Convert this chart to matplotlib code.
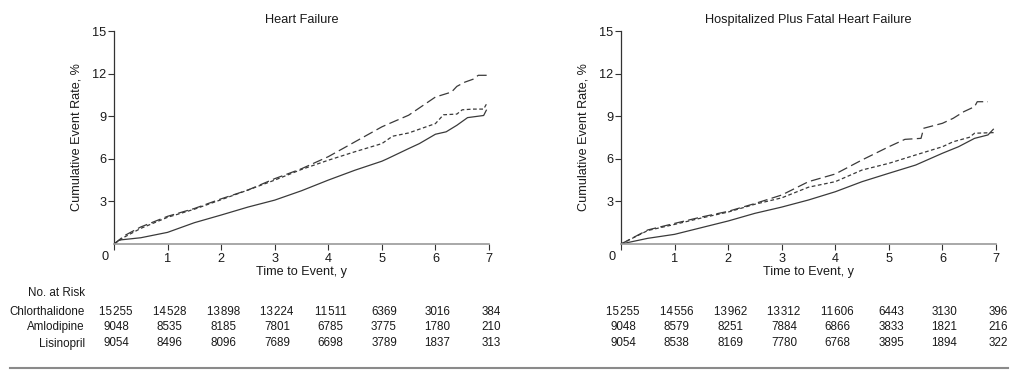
import matplotlib
matplotlib.use("Agg")
import matplotlib.pyplot as plt
from matplotlib.transforms import blended_transform_factory
from matplotlib.lines import Line2D

plt.rcParams['font.family'] = ['Liberation Sans', 'DejaVu Sans']

# ---- data ----
years = [0, 1, 2, 3, 4, 5, 6, 7]

# Heart failure
hf_chlor_t = [0, 0.1, 0.5, 1, 1.5, 2, 2.5, 3, 3.5, 4, 4.5, 5, 5.1, 5.5, 5.7, 6, 6.2, 6.4, 6.6, 6.9, 6.95]
hf_chlor_v = [0, 0.28, 0.44, 0.82, 1.5, 2.04, 2.6, 3.09, 3.75, 4.5, 5.2, 5.83, 6.0, 6.72, 7.07, 7.73, 7.9, 8.36, 8.9, 9.05, 9.42]
hf_amlo_t = [0, 0.2, 0.5, 1, 1.5, 2, 2.5, 3, 3.5, 4, 4.5, 5, 5.15, 5.5, 6, 6.3, 6.4, 6.55, 6.7, 6.8, 7.0]
hf_amlo_v = [0, 0.6, 1.2, 1.95, 2.5, 3.18, 3.8, 4.6, 5.3, 6.15, 7.2, 8.25, 8.5, 9.07, 10.35, 10.7, 11.1, 11.4, 11.6, 11.88, 11.88]
hf_lisi_t = [0, 0.2, 0.5, 1, 1.5, 2, 2.5, 3, 3.5, 4, 4.5, 5, 5.2, 5.5, 6, 6.15, 6.4, 6.5, 6.7, 6.9, 6.95]
hf_lisi_v = [0, 0.5, 1.1, 1.88, 2.45, 3.12, 3.8, 4.5, 5.25, 5.9, 6.5, 7.07, 7.59, 7.82, 8.48, 9.1, 9.15, 9.45, 9.5, 9.5, 9.84]

# Hospitalized plus fatal heart failure
hp_chlor_t = [0, 0.5, 1, 1.5, 2, 2.5, 3, 3.5, 4, 4.5, 5, 5.5, 6, 6.3, 6.6, 6.85, 6.95]
hp_chlor_v = [0, 0.4, 0.68, 1.15, 1.62, 2.16, 2.6, 3.1, 3.68, 4.39, 4.98, 5.56, 6.39, 6.85, 7.44, 7.68, 8.08]
hp_amlo_t = [0, 0.5, 1, 1.5, 2, 2.5, 3, 3.5, 4, 4.5, 5, 5.3, 5.6, 5.65, 6, 6.2, 6.4, 6.6, 6.65, 6.85]
hp_amlo_v = [0, 0.99, 1.45, 1.9, 2.3, 2.85, 3.45, 4.39, 4.93, 5.92, 6.85, 7.37, 7.44, 8.15, 8.5, 8.85, 9.32, 9.67, 10.02, 10.02]
hp_lisi_t = [0, 0.5, 1, 1.5, 2, 2.5, 3, 3.5, 4, 4.5, 5, 5.5, 6, 6.2, 6.5, 6.6, 7.0]
hp_lisi_v = [0, 0.95, 1.38, 1.83, 2.25, 2.8, 3.25, 4.0, 4.39, 5.21, 5.68, 6.27, 6.85, 7.2, 7.51, 7.8, 7.85]

# numbers at risk
risk_groups = ["Chlorthalidone", "Amlodipine", "Lisinopril"]
hf_risk = [
    ["15\u200a255", "14\u200a528", "13\u200a898", "13\u200a224", "11\u200a511", "6369", "3016", "384"],
    ["9048", "8535", "8185", "7801", "6785", "3775", "1780", "210"],
    ["9054", "8496", "8096", "7689", "6698", "3789", "1837", "313"],
]
hp_risk = [
    ["15\u200a255", "14\u200a556", "13\u200a962", "13\u200a312", "11\u200a606", "6443", "3130", "396"],
    ["9048", "8579", "8251", "7884", "6866", "3833", "1821", "216"],
    ["9054", "8538", "8169", "7780", "6768", "3895", "1894", "322"],
]

W, H = 1018, 375
fig = plt.figure(figsize=(W / 100, H / 100), dpi=100)

line_col = "#3a3a3a"
text_col = "#1a1a1a"
row_y = [312, 327, 343.5]  # pixel centres of table rows


def panel(left_px, title, curves, risk):
    ax = fig.add_axes([left_px / W, 1 - 244 / H, 375 / W, 213 / H])
    t, v = curves[0]
    ax.plot(t, v, color=line_col, lw=0.9, ls="-")
    t, v = curves[1]
    ax.plot(t, v, color=line_col, lw=0.9, ls=(0, (8, 3.5)))
    t, v = curves[2]
    ax.plot(t, v, color=line_col, lw=0.9, ls=(0, (3, 2)))

    ax.set_xlim(0, 7)
    ax.set_ylim(0, 15)
    ax.set_xticks(years)
    ax.set_xticklabels([""] + [str(y) for y in years[1:]])
    ax.set_yticks([3, 6, 9, 12, 15])
    for s in ["top", "right"]:
        ax.spines[s].set_visible(False)
    ax.spines["left"].set_color("#333333")
    ax.spines["left"].set_linewidth(0.9)
    ax.spines["bottom"].set_color("#9a9a9a")
    ax.spines["bottom"].set_linewidth(1.2)
    ax.tick_params(axis="both", direction="out", length=4, width=0.8,
                   color="#333333", labelsize=9.2, labelcolor=text_col)
    ax.tick_params(axis="y", pad=1.5)
    ax.tick_params(axis="x", pad=2.5)

    ax.text(-0.024, -0.06, "0", transform=ax.transAxes, ha="center", va="center",
            fontsize=9.2, color=text_col)
    ax.text(0.5, 1.052, title, transform=ax.transAxes, ha="center", va="center",
            fontsize=9.2, color=text_col)
    ax.text(-0.1013, 0.5, "Cumulative Event Rate, %", transform=ax.transAxes,
            rotation=90, ha="center", va="center", fontsize=9.1, color=text_col)
    ax.text(0.5, -0.131, "Time to Event, y", transform=ax.transAxes,
            ha="center", va="center", fontsize=9.1, color=text_col)

    tr = blended_transform_factory(ax.transData, fig.transFigure)
    for row, yp in zip(risk, row_y):
        for x, s in zip(years, row):
            ax.text(x + 0.04, 1 - yp / H, s, transform=tr, ha="center", va="center",
                    fontsize=8.4, color=text_col, clip_on=False)
    return ax


panel(114, "Heart Failure", [(hf_chlor_t, hf_chlor_v), (hf_amlo_t, hf_amlo_v),
                             (hf_lisi_t, hf_lisi_v)], hf_risk)
panel(621, "Hospitalized Plus Fatal Heart Failure",
      [(hp_chlor_t, hp_chlor_v), (hp_amlo_t, hp_amlo_v), (hp_lisi_t, hp_lisi_v)], hp_risk)

fig.text(85 / W, 1 - 293.5 / H, "No. at Risk", ha="right", va="center",
         fontsize=8.4, color=text_col)
for name, yp in zip(risk_groups, row_y):
    fig.text(85 / W, 1 - yp / H, name, ha="right", va="center",
             fontsize=8.4, color=text_col)

fig.add_artist(Line2D([10 / W, 1008 / W], [1 - 367.5 / H, 1 - 367.5 / H],
                      transform=fig.transFigure, color="#8a8a8a", lw=1.5))

fig.savefig("out.png", dpi=100)
